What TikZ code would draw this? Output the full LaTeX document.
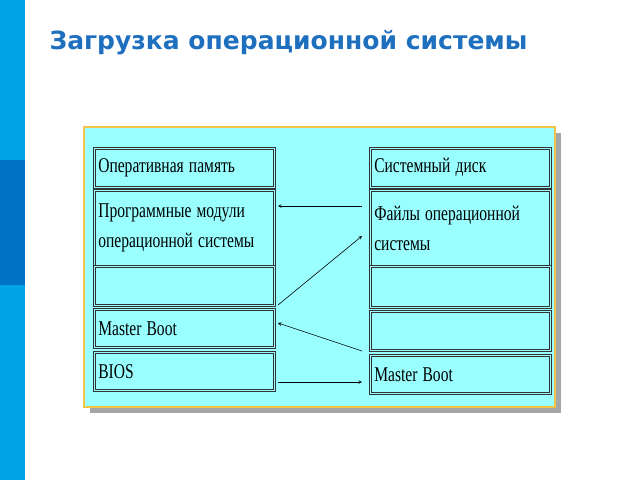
\documentclass[tikz,border=0pt]{standalone}
\usepackage{fontspec}
\setmainfont{Liberation Serif}
\newfontfamily\titlefont{DejaVu Sans}
\definecolor{tblue}{HTML}{1F6FBF}
\definecolor{barA}{HTML}{00A3E8}
\definecolor{barB}{HTML}{0072C6}
\definecolor{panel}{HTML}{99FFFF}
\definecolor{frame}{HTML}{F2C44A}
\begin{document}
\begin{tikzpicture}[x=1pt,y=-1pt,
  cell/.style={draw=black!80,fill=panel,line width=0.6pt,double=panel,double distance=1.2pt,minimum width=180pt,anchor=north west,inner sep=0pt,text width=172pt,align=left,font=\fontsize{21}{25}\selectfont},
  arr/.style={-stealth,line width=0.6pt}]
\useasboundingbox (0,0) rectangle (640,480);
\fill[barA] (0,0) rectangle (25,480);
\fill[barB] (0,160) rectangle (25,285);
\node[anchor=west,font=\titlefont\bfseries\fontsize{25}{29}\selectfont,text=tblue] (title) at (46,43) {Загрузка операционной системы};
\fill[black!35] (90,133) rectangle (561,413);
\draw[frame,line width=2pt,fill=panel] (84,127) rectangle (555,407);
% left
\node[cell,minimum height=39pt] (l1) at (94,148) {\scalebox{0.74}[1]{Оперативная память}};
\node[cell,minimum height=76pt] (l2) at (94,190) {\scalebox{0.74}[1]{\parbox{240pt}{Программные модули\\[5pt]операционной системы}}};
\node[cell,minimum height=39pt] (l3) at (94,266) {};
\node[cell,minimum height=38pt] (l4) at (94,309) {\scalebox{0.74}[1]{Master Boot}};
\node[cell,minimum height=38pt] (l5) at (94,352) {\scalebox{0.74}[1]{BIOS}};
% right
\node[cell,minimum height=39pt] (r1) at (370,148) {\scalebox{0.74}[1]{Системный диск}};
\node[cell,minimum height=76pt] (r2) at (370,190) {\scalebox{0.74}[1]{\parbox{240pt}{Файлы операционной\\[5pt]системы}}};
\node[cell,minimum height=41pt] (r3) at (370,266) {};
\node[cell,minimum height=39pt] (r4) at (370,311) {};
\node[cell,minimum height=38pt] (r5) at (370,355) {\scalebox{0.74}[1]{Master Boot}};
\coordinate (a1s) at (362,206); \coordinate (a1e) at (278,206);
\coordinate (a2s) at (278,305); \coordinate (a2e) at (362,236);
\coordinate (a3s) at (362,351); \coordinate (a3e) at (278,323);
\coordinate (a4s) at (278,382); \coordinate (a4e) at (362,382);
\draw[arr] (a1s) -- (a1e);
\draw[arr] (a2s) -- (a2e);
\draw[arr] (a3s) -- (a3e);
\draw[arr] (a4s) -- (a4e);
\end{tikzpicture}
\end{document}
